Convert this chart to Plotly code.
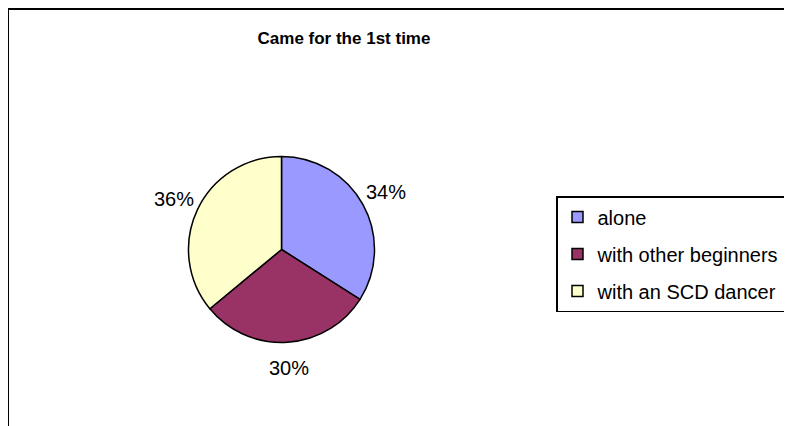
import math
import plotly.graph_objects as go

labels = ["alone", "with other beginners", "with an SCD dancer"]
values = [34, 30, 36]
colors = ["#9999FF", "#993366", "#FFFFCC"]

W, H = 792, 426
OFF = 8  # page body margin shifts the figure by 8px


def px(x):
    return (x - OFF) / W


def py(y):
    return 1 - (y - OFF) / H


# pie geometry in screen pixels
CX, CY, R = 281.5, 249.5, 93

fig = go.Figure()
fig.add_trace(go.Pie(
    labels=labels,
    values=values,
    sort=False,
    direction="clockwise",
    rotation=0,
    marker=dict(colors=colors, line=dict(color="black", width=1.5)),
    textinfo="none",
    domain=dict(x=[px(CX - R), px(CX + R)], y=[py(CY + R), py(CY - R)]),
    hoverinfo="label+percent",
    showlegend=False,
))

# percentage labels placed outside each slice, along its middle angle
total = sum(values)
cum = 0
annotations = []
for v in values:
    mid = (cum + v / 2) / total * 2 * math.pi
    cum += v
    annotations.append(dict(
        x=px(CX + 1.28 * R * math.sin(mid)),
        y=py(CY - 1.28 * R * math.cos(mid)),
        xref="paper", yref="paper", showarrow=False,
        text=f"{round(v / total * 100)}%",
        xanchor="center", yanchor="middle",
        font=dict(family="Liberation Sans, Arial", size=20, color="black"),
    ))

# legend entries (separate groups so the row spacing can be set)
for lab, col in zip(labels, colors):
    fig.add_trace(go.Scatter(
        x=[None], y=[None], mode="markers", name=lab, legendgroup=lab,
        marker=dict(symbol="square", size=11, color=col,
                    line=dict(color="black", width=1.5)),
    ))

fig.update_layout(
    width=W, height=H,
    margin=dict(l=0, r=0, t=0, b=0),
    paper_bgcolor="white",
    plot_bgcolor="white",
    xaxis=dict(visible=False),
    yaxis=dict(visible=False),
    font=dict(family="Liberation Sans, Arial", color="black"),
    title=dict(text="<b>Came for the 1st time</b>", x=px(344), y=py(38),
               xanchor="center", yanchor="middle",
               font=dict(size=17, color="black")),
    legend=dict(x=px(556), y=py(196), xanchor="left", yanchor="top",
                bordercolor="black", borderwidth=1.5, bgcolor="white",
                font=dict(size=20), entrywidth=260, tracegroupgap=8,
                traceorder="grouped"),
    annotations=annotations,
    shapes=[dict(type="rect", xref="paper", yref="paper",
                 x0=px(8), x1=1.05, y0=-0.05, y1=py(9),
                 line=dict(color="black", width=2))],
)

fig.write_html("out.html")
